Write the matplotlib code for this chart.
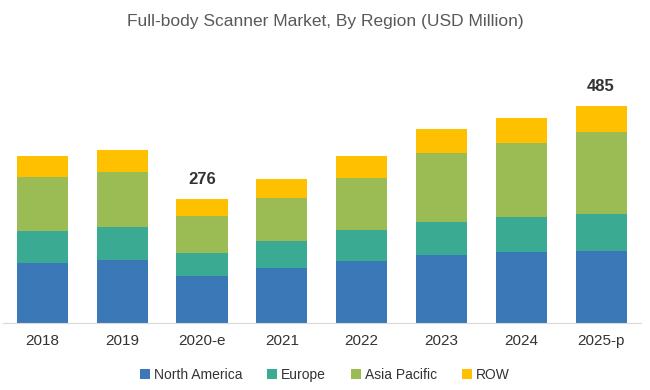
import numpy as np
import matplotlib.pyplot as plt

years = ['2018', '2019', '2020-e', '2021', '2022', '2023', '2024', '2025-p']
north_america = [134, 139, 105, 122, 137, 151, 157, 161]
europe = [72, 74, 50, 60, 71, 74, 79, 81]
asia_pacific = [120, 125, 84, 97, 115, 155, 166, 184]
row = [47, 49, 37, 42, 51, 53, 56, 59]
labelled = {'2020-e': 276, '2025-p': 485}

series = [('North America', north_america, '#3a78b8'),
          ('Europe', europe, '#3aaa92'),
          ('Asia Pacific', asia_pacific, '#9bbb55'),
          ('ROW', row, '#ffc000')]

plt.rcParams['font.family'] = ['Liberation Sans', 'DejaVu Sans']

fig = plt.figure(figsize=(6.5, 3.9), dpi=100)
ax = fig.add_axes([2.5 / 650, 0.173, 638.5 / 650, 0.641])

x = np.arange(len(years))
bottom = np.zeros(len(years))
for name, vals, color in series:
  ax.bar(x, vals, width=0.64, bottom=bottom, color=color, label=name, zorder=2)
  bottom += np.array(vals)

for i, yr in enumerate(years):
  if yr in labelled:
    ax.text(i, bottom[i] + 27, str(labelled[yr]), ha='center', va='bottom',
            fontsize=12, fontweight='bold', color='#333333')

ax.set_xlim(-0.5, len(years) - 0.5)
ax.set_ylim(0, 560)
ax.set_xticks(x)
ax.set_xticklabels(years, fontsize=11, color='#333333')
ax.set_yticks([])
for side in ['top', 'right', 'left']:
  ax.spines[side].set_visible(False)
ax.spines['bottom'].set_color('#d9d9d9')
ax.tick_params(axis='x', length=0, pad=8)

fig.text(0.5, 0.945, 'Full-body Scanner Market, By Region (USD Million)',
         ha='center', va='center', fontsize=12.5, color='#595959')

fig.legend(loc='center', bbox_to_anchor=(0.5, 0.038), ncol=4, frameon=False,
           fontsize=10, handlelength=0.7, handleheight=0.7, handletextpad=0.3,
           columnspacing=1.8, labelcolor='#333333')

fig.savefig('out.png', dpi=100)
